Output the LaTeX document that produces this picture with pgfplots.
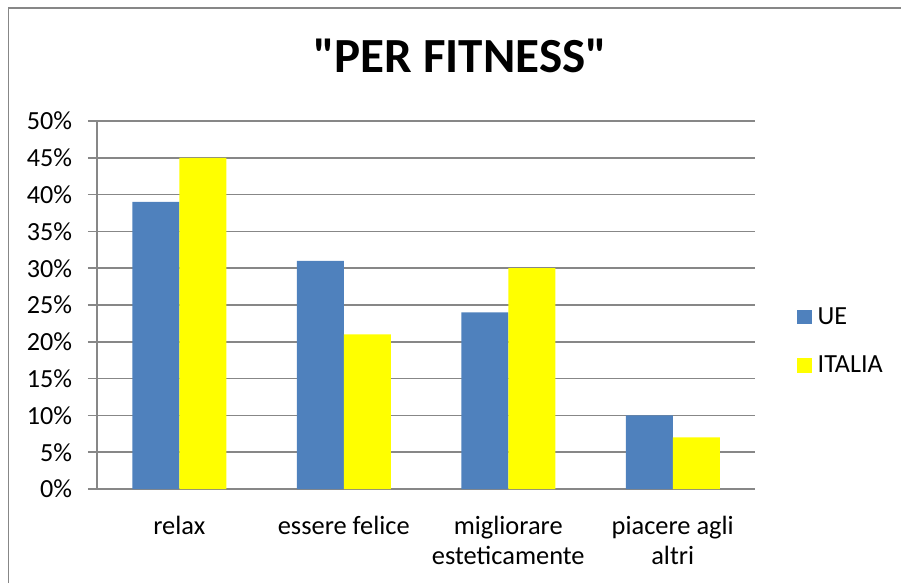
\documentclass[border=0pt]{standalone}
\usepackage{fontspec}
\setmainfont{Carlito}
\newfontfamily\titlefont{Carlito}
\usepackage{pgfplots}
\pgfplotsset{compat=1.18}
\definecolor{ueblue}{HTML}{4F81BD}
\definecolor{ityellow}{HTML}{FFFF00}
\definecolor{gridgray}{HTML}{878787}
\begin{document}
\begin{tikzpicture}
\useasboundingbox (0,0) rectangle (675.75pt,437.25pt);
\draw[gridgray, line width=1.1pt] (6.4pt,0) -- (6.4pt,431.3pt) -- (675.75pt,431.3pt);
\node[font=\titlefont\fontsize{36.8}{42}\selectfont\bfseries, anchor=base] at (345pt,382.5pt) {"PER FITNESS"};
\begin{axis}[
  at={(72.75pt,70.5pt)}, anchor=south west,
  scale only axis, width=493.5pt, height=276pt,
  ybar=0pt, bar width=35.25pt,
  xmin=-0.5, xmax=3.5, ymin=0, ymax=50,
  xtick={0,1,2,3},
  xticklabels={relax, essere felice, migliorare\\esteticamente, piacere agli\\altri},
  xticklabel style={align=center, font=\fontsize{19.8}{22.5}\selectfont, yshift=-10pt},
  ytick={0,5,...,50},
  yticklabel={\pgfmathprintnumber{\tick}\%},
  yticklabel style={font=\fontsize{19.6}{22}\selectfont, xshift=-8.5pt},
  /pgf/number format/assume math mode=true,
  axis x line=bottom, axis y line=left,
  axis line style={gridgray, line width=1.1pt, -},
  x axis line style={shorten <=-6.75pt},
  ymajorgrids, grid style={gridgray, line width=1.1pt},
  major x tick style={draw=none},
  major y tick style={gridgray, line width=1.1pt},
  tick align=outside, major tick length=6.75pt,
  legend style={at={(1.064,0.402)}, anchor=west, draw=none, fill=none,
    font=\fontsize{19.6}{22}\selectfont, row sep=18pt, inner sep=0pt,
    nodes={inner xsep=4pt}},
  legend cell align=left,
  legend image code/.code={\fill[#1] (0pt,-5.6pt) rectangle (11.25pt,5.6pt);},
]
\addplot[fill=ueblue, draw=none] coordinates {(0,39) (1,31) (2,24) (3,10)};
\addplot[fill=ityellow, draw=none] coordinates {(0,45) (1,21) (2,30) (3,7)};
\legend{UE, ITALIA}
\end{axis}
\end{tikzpicture}
\end{document}
